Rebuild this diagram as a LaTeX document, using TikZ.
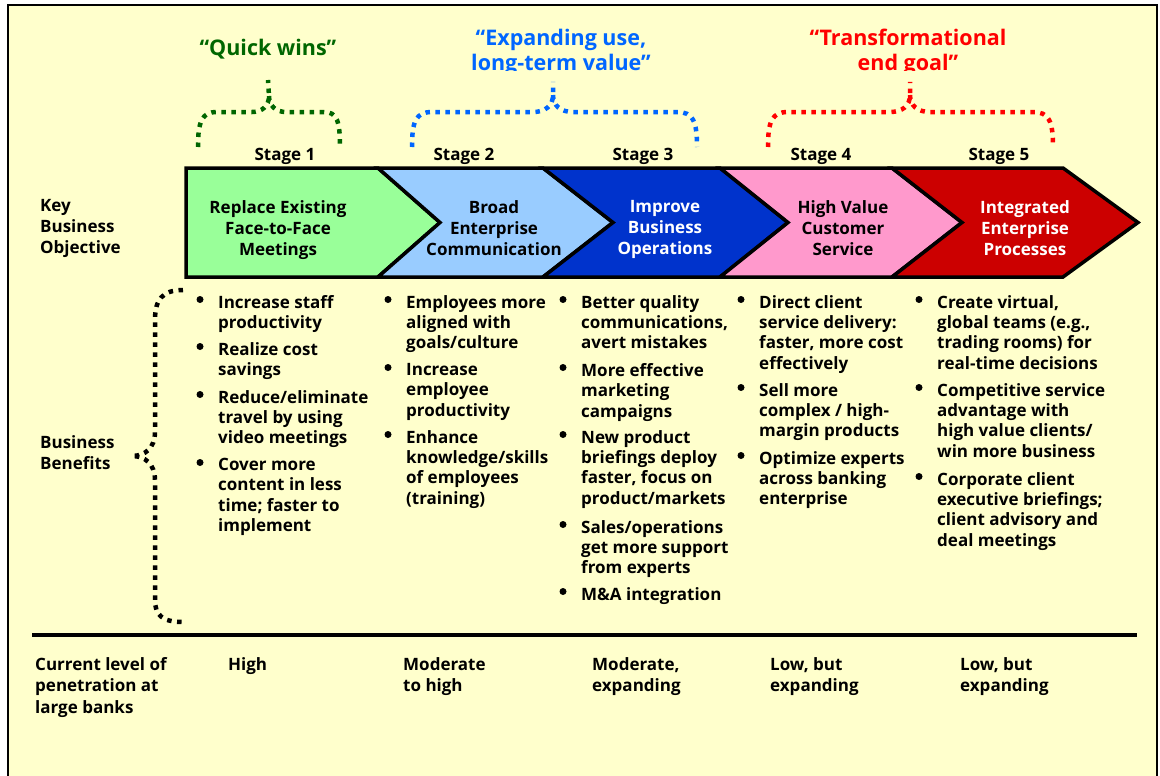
\documentclass[tikz,border=0pt]{standalone}
\usepackage{fontspec}
\setmainfont{Open Sans}
\definecolor{bg}{HTML}{FFFFCC}
\definecolor{cgreen}{HTML}{99FF99}
\definecolor{cltblue}{HTML}{99CCFF}
\definecolor{cblue}{HTML}{0033CC}
\definecolor{cpink}{HTML}{FF99CC}
\definecolor{cred}{HTML}{CC0000}
\definecolor{hgreen}{HTML}{006600}
\definecolor{hblue}{HTML}{0066FF}
\definecolor{hred}{HTML}{FF0000}
\newcommand\benefit[5]{%
  \node[bul] (#1b) at (#2,#4-2.5) {};
  \node[txt] (#1) at (#3,#4-7) {#5};
}
\begin{document}
\begin{tikzpicture}[x=1pt,y=-1pt,
  chev/.style={draw=black, line width=3.5pt, line join=miter},
  ctext/.style={font=\bfseries\fontsize{17}{21}\selectfont, align=center, inner sep=0, anchor=north},
  txt/.style={font=\bfseries\fontsize{17}{20.4}\selectfont, align=left, inner sep=0, anchor=north west},
  lbl/.style={font=\bfseries\fontsize{17}{21}\selectfont, align=left, inner sep=0, anchor=north west},
  bul/.style={circle, fill=black, inner sep=0, minimum size=7pt},
  lvl/.style={font=\bfseries\fontsize{17}{21.5}\selectfont, align=left, inner sep=0, anchor=north west},
  stagelbl/.style={font=\bfseries\fontsize{17}{21}\selectfont, inner sep=0, anchor=base},
  hdr/.style={font=\bfseries\fontsize{21.5}{25}\selectfont, align=center, inner sep=0, anchor=north},
  brace/.style={line width=4.5pt, dash pattern=on 4.5pt off 5.5pt}
]
\useasboundingbox (0,0) rectangle (1160,776);
\clip (0,0) rectangle (1160,776);
\fill[white] (0,0) rectangle (1160,776);
\draw[fill=bg, line width=2pt] (8,5) rectangle (1157,800);

% headers
\node[hdr, text=hgreen] (hq) at (268,39) {“Quick wins”};
\begin{scope}
  \clip (0,0) rectangle (1160,70.5);
  \node[hdr, text=hblue] (he) at (561,28.5) {“Expanding use,\\long-term value”};
  \node[hdr, text=hred] (ht) at (908,28.5) {“Transformational\\end goal”};
\end{scope}

% braces
\draw[brace, hgreen] (198,147) .. controls (198,121) and (202,112) .. (217,112) -- (252,112) .. controls (262,112) and (269,106) .. (269,96) -- (268,80);
\draw[brace, hgreen] (269,96) .. controls (269,106) and (276,112) .. (286,112) -- (324,112) .. controls (337,112) and (340,121) .. (340,147);
\draw[brace, hblue] (412,147) .. controls (412,121) and (416,112) .. (432,112) -- (533,112) .. controls (545,112) and (553,106) .. (553,95) -- (553,82);
\draw[brace, hblue] (553,95) .. controls (553,106) and (561,112) .. (573,112) -- (677,112) .. controls (693,112) and (697,121) .. (697,147);
\draw[brace, hred] (768,147) .. controls (768,121) and (772,112) .. (788,112) -- (890,112) .. controls (902,112) and (910,106) .. (910,95) -- (910,82);
\draw[brace, hred] (910,95) .. controls (910,106) and (918,112) .. (930,112) -- (1033,112) .. controls (1049,112) and (1053,121) .. (1053,147);
\draw[brace, black] (183,290) .. controls (162,290) and (155,300) .. (155,320) -- (155,432) .. controls (155,448) and (145,456) .. (132,456) .. controls (145,456) and (155,464) .. (155,480) -- (155,600) .. controls (155,615) and (162,622) .. (183,622);

% stage labels
\node[stagelbl] (s1) at (285,160) {Stage 1};
\node[stagelbl] (s2) at (464,160) {Stage 2};
\node[stagelbl] (s3) at (643,160) {Stage 3};
\node[stagelbl] (s4) at (821,160) {Stage 4};
\node[stagelbl] (s5) at (999,160) {Stage 5};

% chevrons
\filldraw[chev, fill=cgreen] (186,168) -- (378,168) -- (440,222.5) -- (378,277) -- (186,277) -- cycle;
\filldraw[chev, fill=cltblue] (378,168) -- (543,168) -- (613,222.5) -- (543,277) -- (378,277) -- (440,222.5) -- cycle;
\filldraw[chev, fill=cblue] (543,168) -- (720,168) -- (788,222.5) -- (720,277) -- (543,277) -- (613,222.5) -- cycle;
\filldraw[chev, fill=cpink] (720,168) -- (892,168) -- (962,222.5) -- (892,277) -- (720,277) -- (788,222.5) -- cycle;
\filldraw[chev, fill=cred] (892,168) -- (1063,168) -- (1138,222.5) -- (1063,277) -- (892,277) -- (962,222.5) -- cycle;

\node[ctext] (o1) at (278,200) {Replace Existing\\Face-to-Face\\Meetings};
\node[ctext] (o2) at (494,200) {Broad\\Enterprise\\Communication};
\node[ctext, text=white] (o3) at (665,200) {Improve\\Business\\Operations};
\node[ctext] (o4) at (843,200) {High Value\\Customer\\Service};
\node[ctext, text=white] (o5) at (1025,200) {Integrated\\Enterprise\\Processes};

% left labels
\node[lbl] (kbo) at (40,199) {Key\\Business\\Objective};
\node[lbl] (bb) at (40,435) {Business\\Benefits};

% benefits
\benefit{a1}{200}{218}{302}{Increase staff\\productivity}
\benefit{a2}{200}{218}{349}{Realize cost\\savings}
\benefit{a3}{200}{218}{397}{Reduce/eliminate\\travel by using\\video meetings}
\benefit{a4}{200}{218}{465}{Cover more\\content in less\\time; faster to\\implement}

\benefit{b1}{388}{406}{302}{Employees more\\aligned with\\goals/culture}
\benefit{b2}{388}{406}{370}{Increase\\employee\\productivity}
\benefit{b3}{388}{406}{437}{Enhance\\knowledge/skills\\of employees\\(training)}

\benefit{c1}{563}{581}{302}{Better quality\\communications,\\avert mistakes}
\benefit{c2}{563}{581}{370}{More effective\\marketing\\campaigns}
\benefit{c3}{563}{581}{437}{New product\\briefings deploy\\faster, focus on\\product/markets}
\benefit{c4}{563}{581}{527}{Sales/operations\\get more support\\from experts}
\benefit{c5}{563}{581}{594}{M\&A integration}

\benefit{d1}{741}{759}{302}{Direct client\\service delivery:\\faster, more cost\\effectively}
\benefit{d2}{741}{759}{390}{Sell more\\complex / high-\\margin products}
\benefit{d3}{741}{759}{458}{Optimize experts\\across banking\\enterprise}

\benefit{e1}{919}{937}{302}{Create virtual,\\global teams (e.g.,\\trading rooms) for\\real-time decisions}
\benefit{e2}{919}{937}{390}{Competitive service\\advantage with\\high value clients/\\win more business}
\benefit{e3}{919}{937}{479}{Corporate client\\executive briefings;\\client advisory and\\deal meetings}

% rule
\draw[line width=4pt] (32,635) -- (1137,635);

% penetration
\node[lvl] (p0) at (35,657) {Current level of\\penetration at\\large banks};
\node[lvl] (p1) at (228,657) {High};
\node[lvl] (p2) at (403,657) {Moderate\\to high};
\node[lvl] (p3) at (592,657) {Moderate,\\expanding};
\node[lvl] (p4) at (770,657) {Low, but\\expanding};
\node[lvl] (p5) at (960,657) {Low, but\\expanding};
\end{tikzpicture}
\end{document}
